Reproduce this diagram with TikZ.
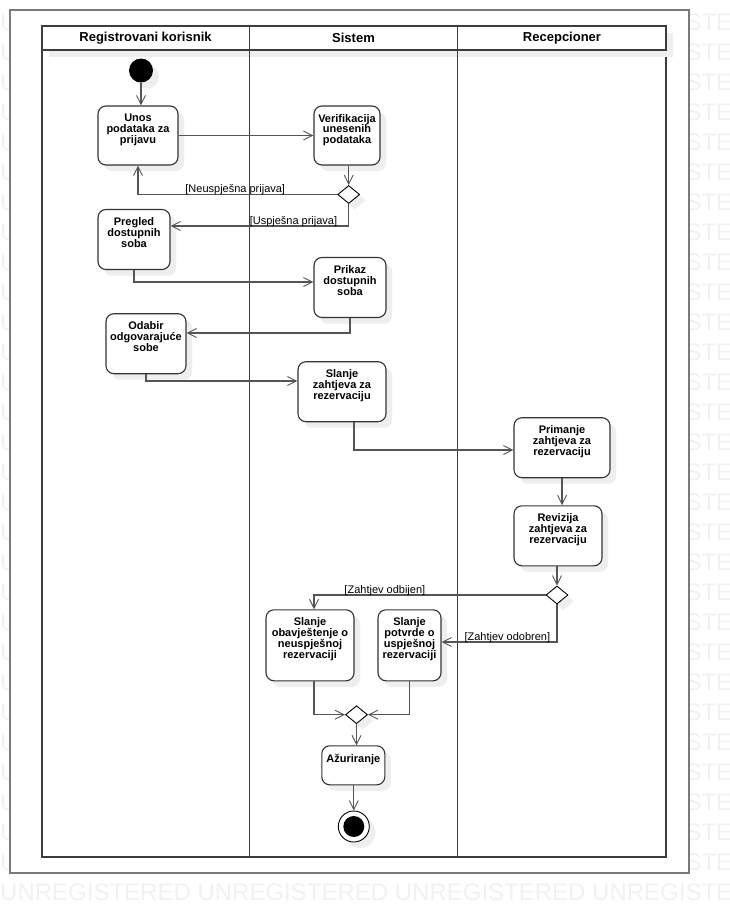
\documentclass[tikz,border=0pt]{standalone}
\usepackage{fontspec}
\setmainfont{Liberation Sans}
\usepackage{tikz}
\usetikzlibrary{arrows.meta,shapes.geometric,shadows}

\definecolor{framecol}{HTML}{7A7A7A}
\definecolor{lanecol}{HTML}{3C3C3C}
\definecolor{boxcol}{HTML}{333333}
\definecolor{linecol}{HTML}{555555}
\definecolor{markcol}{HTML}{F1F1F1}
\definecolor{shadecol}{HTML}{EEEEEE}

\begin{document}
\begin{tikzpicture}[x=1pt,y=-1pt,
  shd/.style={drop shadow={shadow xshift=6pt,shadow yshift=-6pt,fill=shadecol,opacity=1}},
  act/.style={draw=boxcol,line width=1.1pt,rounded corners=8pt,fill=white,inner sep=0pt,shd},
  actlbl/.style={anchor=north,yshift=-8.5pt,align=center,inner sep=0pt,text=black,
    font=\bfseries\fontsize{11}{10.8}\selectfont},
  choice/.style={diamond,draw=black,line width=0.9pt,fill=white,inner sep=0pt,
    minimum width=22pt,minimum height=18pt,shd},
  flow/.style={draw=linecol,line width=1.2pt,
    -{Straight Barb[length=9pt,width=9pt,line width=0.9pt]}},
  guard/.style={anchor=south,inner sep=0pt,yshift=-1pt,text=black,font=\fontsize{11}{11}\selectfont},
  lanehead/.style={font=\bfseries\fontsize{13}{13}\selectfont}]
  \useasboundingbox (0,0) rectangle (729,913);

  % watermark behind the frame
  \begin{scope}
    \clip (0,0) rectangle (729,913);
    \foreach \yy in {22,52,...,892}
      \node[anchor=west,inner sep=0pt,text=markcol,font=\fontsize{24}{24}\selectfont]
        at (0,\yy) {UNREGISTERED UNREGISTERED UNREGISTERED UNREGISTERED};
  \end{scope}

  % frame
  \fill[white] (10,10) rectangle (689,873);
  \draw[framecol,line width=1.8pt] (10,10) rectangle (689,873);

  % swimlanes
  \draw[lanecol,line width=1.5pt,fill=white] (42,26) rectangle (666,857);
  \fill[shadecol] (49,33) rectangle (673,57);
  \draw[lanecol,line width=1.5pt,fill=white] (42,26) rectangle (666,50);
  \draw[lanecol,line width=1.8pt] (249.5,26) -- (249.5,857);
  \draw[lanecol,line width=1.8pt] (457.5,26) -- (457.5,857);
  \node[lanehead] (h1) at (145.5,38) {Registrovani korisnik};
  \node[lanehead] (h2) at (353.5,38) {Sistem};
  \node[lanehead] (h3) at (562,38) {Recepcioner};

  % activities
  \node[circle,fill=black,inner sep=0pt,minimum size=24pt,shd] (start) at (141,70.5) {};
  \node[act,minimum width=80pt,minimum height=59pt,
    label={[actlbl]north:Unos\\podataka za\\prijavu}] (unos) at (138,135.5) {};
  \node[act,minimum width=66pt,minimum height=59pt,
    label={[actlbl]north:Verifikacija\\unesenih\\podataka}] (verif) at (347,135.5) {};
  \node[choice] (d1) at (348.7,194.5) {};
  \node[act,minimum width=72pt,minimum height=60pt,
    label={[actlbl]north:Pregled\\dostupnih\\soba}] (pregled) at (134,239.5) {};
  \node[act,minimum width=72pt,minimum height=60pt,
    label={[actlbl]north:Prikaz\\dostupnih\\soba}] (prikaz) at (350,287.5) {};
  \node[act,minimum width=80pt,minimum height=60pt,
    label={[actlbl]north:Odabir\\odgovaraju\'ce\\sobe}] (odabir) at (146,343.7) {};
  \node[act,minimum width=88pt,minimum height=60pt,
    label={[actlbl]north:Slanje\\zahtjeva za\\rezervaciju}] (slanje) at (342,391.7) {};
  \node[act,minimum width=96pt,minimum height=60pt,
    label={[actlbl]north:Primanje\\zahtjeva za\\rezervaciju}] (primanje) at (562,447.7) {};
  \node[act,minimum width=88pt,minimum height=60pt,
    label={[actlbl]north:Revizija\\zahtjeva za\\rezervaciju}] (revizija) at (558,535.8) {};
  \node[choice] (d2) at (557,595) {};
  \node[act,minimum width=88pt,minimum height=71pt,
    label={[actlbl]north:Slanje\\obavještenje o\\neuspješnoj\\rezervaciji}] (odbij) at (310,645.3) {};
  \node[act,minimum width=63pt,minimum height=71pt,
    label={[actlbl]north:Slanje\\potvrde o\\uspješnoj\\rezervaciji}] (potvrda) at (409.5,645.3) {};
  \node[choice] (spoj) at (356.5,714.7) {};
  \node[act,minimum width=63pt,minimum height=39pt,
    label={[actlbl]north:Ažuriranje}] (azur) at (353.3,765.3) {};
  \node[circle,draw=black,line width=0.9pt,fill=white,inner sep=0pt,minimum size=31pt,shd] (kraj) at (353.8,826.5) {};
  \node[circle,fill=black,inner sep=0pt,minimum size=21pt] (krajin) at (kraj) {};

  % transitions
  \draw[flow] (start) -- (start |- unos.north);
  \draw[flow] (unos) -- (verif);
  \draw[flow] (d1 |- verif.south) -- (d1.north);
  \draw[flow] (d1.west) -| node[guard,pos=0.256] {[Neuspješna prijava]} (unos.south);
  \draw[flow] (d1.south) |- node[guard,pos=0.655] {[Uspješna prijava]} ([yshift=13.5pt]pregled.east);
  \draw[flow] (pregled.south) |- ([yshift=5.5pt]prikaz.west);
  \draw[flow] (prikaz.south) |- ([yshift=10.7pt]odabir.east);
  \draw[flow] (odabir.south) |- ([yshift=10.7pt]slanje.west);
  \draw[flow] ([xshift=12pt]slanje.south) |- ([yshift=-2.3pt]primanje.west);
  \draw[flow] (primanje.south) -- (primanje.south |- revizija.north);
  \draw[flow] (d2 |- revizija.south) -- (d2.north);
  \draw[flow] (d2.west) -| node[guard,pos=0.347] {[Zahtjev odbijen]} ([xshift=4pt]odbij.north);
  \draw[flow] (d2.south) |- node[guard,pos=0.715] {[Zahtjev odobren]} ([yshift=3.3pt]potvrda.east);
  \draw[flow] ([xshift=4pt]odbij.south) |- (spoj.west);
  \draw[flow] (potvrda.south) |- (spoj.east);
  \draw[flow] (spoj.south) -- (spoj |- azur.north);
  \draw[flow] (kraj |- azur.south) -- (kraj.north);
\end{tikzpicture}
\end{document}
